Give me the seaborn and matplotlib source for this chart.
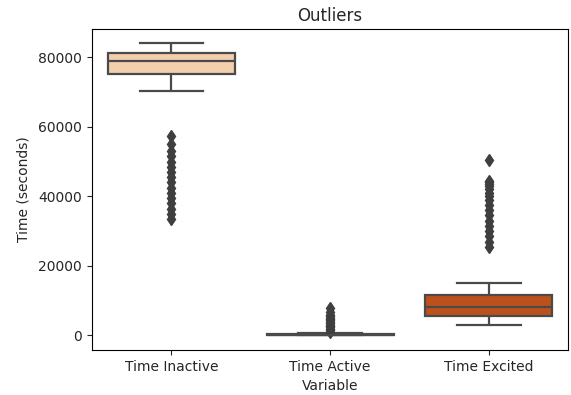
import pandas as pd
import matplotlib
matplotlib.use("Agg")
import matplotlib.pyplot as plt
import seaborn as sns

# values (seconds)
time_inactive = [
    70200, 72000, 73800, 75000,
    75100, 75300, 75500, 75700, 75900, 76100, 76300, 76500, 76700, 76900,
    77100, 77300, 77500, 77700, 77900, 78100, 78300, 78500, 78650, 78800,
    78900, 79000, 79100, 79200, 79300, 79400, 79500, 79600, 79700, 79800,
    79900, 80000, 80100, 80200, 80300, 80400, 80500, 80700, 80900, 81100,
    81200, 81300, 81400, 81500, 81600, 81700, 81800, 81900, 82000, 82100,
    82200, 82300, 82400, 82500, 82700, 82900, 83200, 83500, 83800, 84000,
    # outliers
    33500, 35000, 36500, 38000, 39500, 41000, 42500, 44000,
    45500, 47000, 48500, 50000, 51500, 53000, 55000, 57500,
]

time_active = [
    0, 0, 0, 0, 5, 10, 15, 20, 25, 30, 35, 40, 42, 45, 48, 50, 52, 55, 58, 60,
    62, 66, 70, 75, 80, 86, 92, 100, 108, 116, 124, 132, 140, 148, 156, 164,
    172, 180, 190, 198,
    205, 215, 225, 235, 245, 255, 265, 275, 285, 295, 305, 315, 325, 335,
    345, 355, 370, 385, 400, 415,
    425, 450, 480, 520, 560,
    # outliers
    1100, 1500, 1900, 2300, 2700, 3100, 3500, 3900, 4300, 4700, 5100, 5500,
    6000, 6600, 7800,
]

time_excited = [
    2900, 3300, 3600, 3800, 4000, 4150, 4300, 4400, 4500, 4600, 4700, 4800,
    4900, 5000, 5100, 5150, 5200, 5250, 5300, 5400,
    5500, 5650, 5800, 5950, 6100, 6250, 6400, 6550, 6700, 6850, 7000, 7150,
    7300, 7450, 7600, 7700, 7800, 7850, 7900, 8000,
    8100, 8300, 8500, 8700, 8900, 9100, 9300, 9500, 9700, 9900, 10100, 10300,
    10500, 10700, 10900, 11100, 11300, 11450, 11600, 11700,
    11900, 15000,
    # outliers
    25500, 27000, 28500, 30000, 31500, 33000, 34500, 36000, 37500, 39000,
    40000, 41000, 42000, 43000, 43500, 44000, 44500, 50500,
]

categories = ["Time Inactive", "Time Active", "Time Excited"]
series = [time_inactive, time_active, time_excited]

df = pd.concat(
    [pd.DataFrame({"Variable": c, "value": v}) for c, v in zip(categories, series)],
    ignore_index=True,
)

plt.rcParams["font.size"] = 10
plt.rcParams["text.color"] = "#262626"
plt.rcParams["axes.labelcolor"] = "#262626"
plt.rcParams["xtick.color"] = "#262626"
plt.rcParams["ytick.color"] = "#262626"

f, ax = plt.subplots(figsize=(5.71, 3.95), dpi=100)

sns.boxplot(data=df, x="Variable", y="value", hue="Variable",
            palette="Oranges", legend=False, linewidth=1.6,
            linecolor="#4a4a4a", fliersize=6,
            flierprops=dict(marker="d", markerfacecolor="#3f3f3f",
                            markeredgecolor="#3f3f3f"),
            ax=ax)

ax.set_title("Outliers", fontsize=12)
ax.set_xlabel("Variable")
ax.set_ylabel("Time (seconds)", labelpad=6)

plt.subplots_adjust(left=0.161, right=0.995, top=0.927, bottom=0.114)
plt.savefig("out.png", dpi=100)
